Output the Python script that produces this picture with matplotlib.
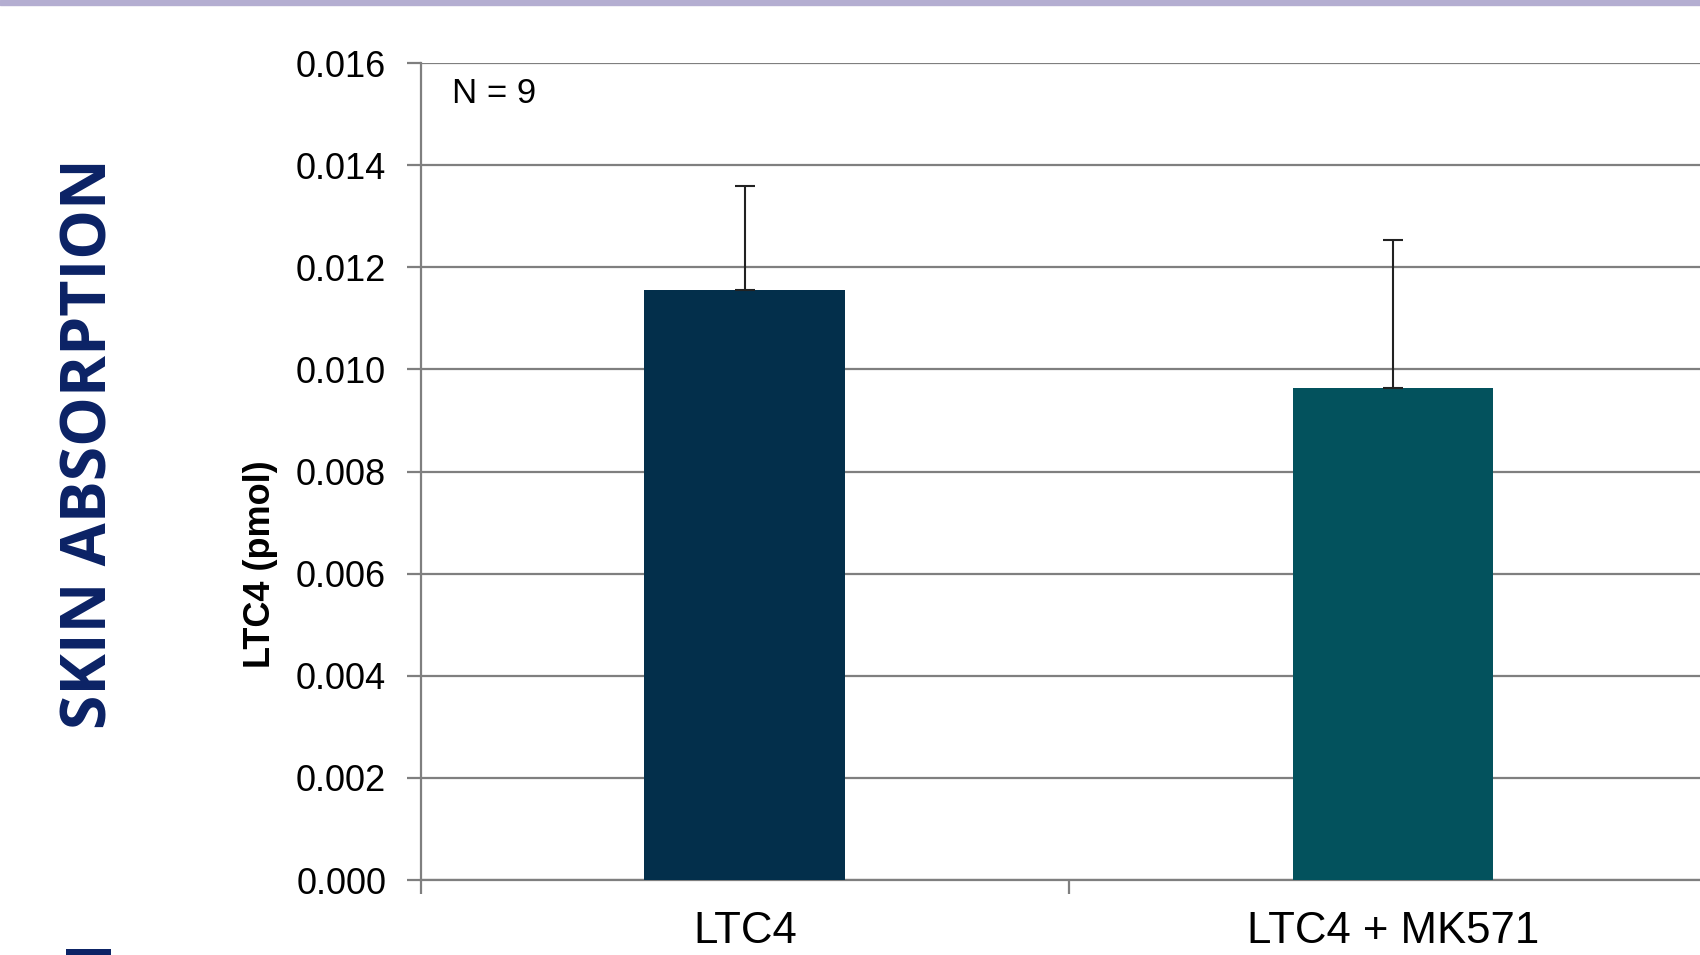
import numpy as np
import matplotlib.pyplot as plt
from matplotlib.patches import Rectangle

groups = ['LTC4', 'LTC4 + MK571']
ltc4_pmol = [0.01156, 0.00963]
sem = [0.00204, 0.00291]
bar_colors = ['#032f4b', '#03525d']
yticks = [0.000, 0.002, 0.004, 0.006, 0.008, 0.010, 0.012, 0.014, 0.016]

plt.rcParams['font.family'] = ['Liberation Sans', 'DejaVu Sans']

fig = plt.figure(figsize=(17, 9.55), dpi=100)
ax = fig.add_axes([0.2476, 0.0785, 0.7624, 0.8555])

x = np.arange(len(groups))
ax.bar(x, ltc4_pmol, width=0.31, color=bar_colors, zorder=3)
ax.errorbar(x, ltc4_pmol, yerr=[np.zeros(len(sem)), sem], fmt='none',
            ecolor='#222222', elinewidth=1.5, capsize=7, capthick=1.5, zorder=4)

ax.set_xlim(-0.5, 1.5)
ax.set_ylim(0, 0.016)
ax.set_yticks(yticks)
ax.set_yticklabels(['%.3f' % t for t in yticks], fontsize=26)
ax.yaxis.grid(True, color='#7f7f7f', linewidth=1.6, zorder=0)
ax.set_axisbelow(True)

ax.set_xticks(x)
ax.set_xticklabels(groups, fontsize=31.5)
ax.set_xticks([-0.5, 0.5, 1.5], minor=True)
ax.tick_params(axis='x', which='major', length=0, pad=22)
ax.tick_params(axis='x', which='minor', length=10, width=1.6, color='#7f7f7f')
ax.tick_params(axis='y', length=10, width=1.6, color='#7f7f7f', pad=15)

for s in ['top', 'right']:
    ax.spines[s].set_visible(False)
for s in ['left', 'bottom']:
    ax.spines[s].set_color('#7f7f7f')
    ax.spines[s].set_linewidth(1.6)

ax.text(452 / 1700, 1 - 77 / 955, 'N = 9', transform=fig.transFigure,
        fontsize=25, ha='left', va='top')

fig.text(260 / 1700, 1 - 564 / 955, 'LTC4 (pmol)', rotation=90, fontsize=26,
         fontweight='bold', ha='center', va='center')

# slide text on the left, second one is cut off by the bottom edge
fig.text(90 / 1700, 1 - 444 / 955, 'SKIN ABSORPTION', rotation=90, fontsize=45,
         fontweight='bold', color='#0b2265', family=['Open Sans', 'DejaVu Sans'],
         ha='center', va='center')
fig.text(90 / 1700, 1 - 936 / 955, 'PENETRATION', rotation=90, fontsize=45,
         fontweight='bold', color='#0b2265', family=['Open Sans', 'DejaVu Sans'],
         ha='center', va='top')

fig.patches.append(Rectangle((0, 1 - 5 / 955), 1, 5 / 955, transform=fig.transFigure,
                             color='#b4aed1', zorder=0))

plt.savefig('out.png', dpi=100)
